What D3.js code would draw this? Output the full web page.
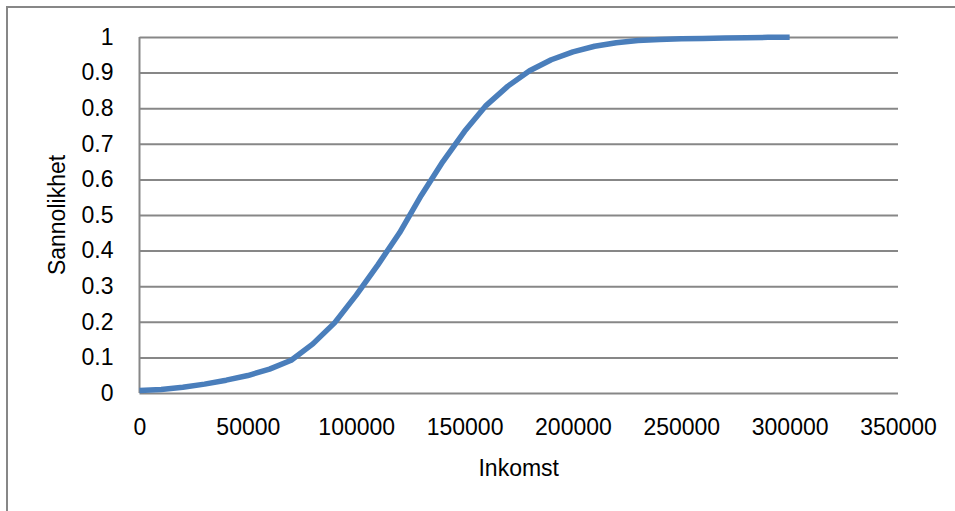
<!DOCTYPE html>
<html>
<head>
<meta charset="utf-8">
<script src="https://cdn.jsdelivr.net/npm/d3@7"></script>
<style>
  body { margin: 0; background: #fff; }
  svg text { font-family: "Liberation Sans", Arial, sans-serif; fill: #000; }
</style>
</head>
<body>
<svg id="chart" width="955" height="511"></svg>
<script>
// Inntekt (x) og kumulativ sannsynlighet (y), lest av figuren
const inkomst = [0, 10000, 20000, 30000, 40000, 50000, 60000, 70000, 80000, 90000,
  100000, 110000, 120000, 130000, 140000, 150000, 160000, 170000, 180000, 190000,
  200000, 210000, 220000, 230000, 240000, 250000, 260000, 270000, 280000, 290000, 300000];
const sannolikhet = [0.007, 0.010, 0.016, 0.025, 0.036, 0.049, 0.067, 0.092, 0.138, 0.197,
  0.275, 0.360, 0.450, 0.555, 0.650, 0.735, 0.808, 0.862, 0.905, 0.936,
  0.958, 0.974, 0.984, 0.990, 0.993, 0.995, 0.996, 0.997, 0.998, 0.999, 0.999];
const xTicks = [0, 50000, 100000, 150000, 200000, 250000, 300000, 350000];
const yTicks = [0, 0.1, 0.2, 0.3, 0.4, 0.5, 0.6, 0.7, 0.8, 0.9, 1];

const svg = d3.select('#chart');
const margin = { top: 37, right: 57, bottom: 118, left: 139.5 };
const innerW = 955 - margin.left - margin.right;
const innerH = 511 - margin.top - margin.bottom;

// chart border (runs off the right/bottom edge in the original)
svg.append('rect')
  .attr('x', 7).attr('y', 7)
  .attr('width', 980).attr('height', 540)
  .attr('fill', 'none')
  .attr('stroke', '#878787')
  .attr('stroke-width', 2);

const x = d3.scaleLinear().domain([0, 350000]).range([0, innerW]);
const y = d3.scaleLinear().domain([0, 1]).range([innerH, 0]);

const g = svg.append('g').attr('transform', `translate(${margin.left},${margin.top})`);

// horizontal gridlines + y tick labels
const yAxisG = g.append('g')
  .call(d3.axisLeft(y).tickValues(yTicks).tickFormat(d => d3.format('')(+d.toFixed(1))).tickSize(-innerW).tickPadding(26));
yAxisG.select('.domain').remove();
yAxisG.selectAll('.tick line').attr('stroke', '#878787').attr('stroke-width', 2);
yAxisG.selectAll('.tick text')
  .style('font-size', '23px')
  .attr('font-family', null);

// vertical axis line
g.append('line')
  .attr('x1', 0).attr('x2', 0)
  .attr('y1', 0).attr('y2', innerH)
  .attr('stroke', '#878787').attr('stroke-width', 2);

// x tick labels
const xAxisG = g.append('g')
  .attr('transform', `translate(0,${innerH})`)
  .call(d3.axisBottom(x).tickValues(xTicks).tickFormat(d3.format('d')).tickSize(0).tickPadding(26));
xAxisG.select('.domain').remove();
xAxisG.selectAll('.tick text')
  .style('font-size', '23px')
  .attr('font-family', null);

// the curve
const line = d3.line()
  .x((d, i) => x(inkomst[i]))
  .y(d => y(d));

g.append('path')
  .datum(sannolikhet)
  .attr('d', line)
  .attr('fill', 'none')
  .attr('stroke', '#4a7ebb')
  .attr('stroke-width', 5.5)
  .attr('stroke-linejoin', 'round');

// axis titles
svg.append('text')
  .attr('x', margin.left + innerW / 2)
  .attr('y', 476)
  .attr('text-anchor', 'middle')
  .style('font-size', '23px')
  .text('Inkomst');

svg.append('text')
  .attr('transform', `translate(65,${margin.top + innerH / 2}) rotate(-90)`)
  .attr('text-anchor', 'middle')
  .style('font-size', '23px')
  .text('Sannolikhet');
</script>
</body>
</html>
